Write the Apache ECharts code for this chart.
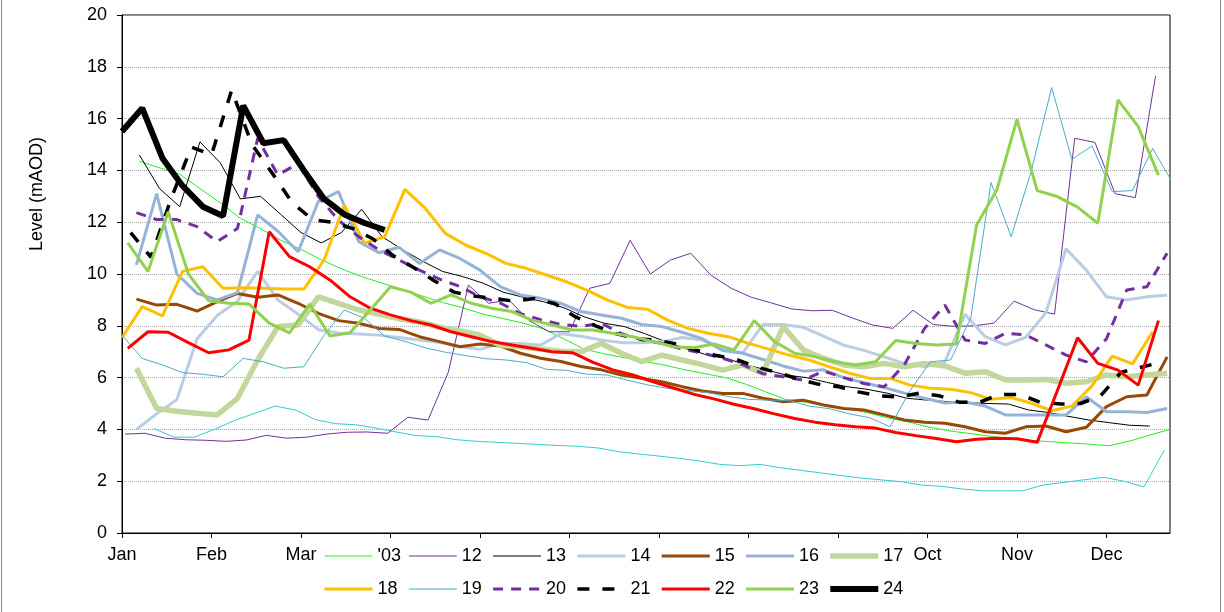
<!DOCTYPE html>
<html><head><meta charset="utf-8">
<script src="https://cdn.jsdelivr.net/npm/echarts@6/dist/echarts.min.js"></script>
<style>html,body{margin:0;padding:0;background:#fff}#c{width:1224px;height:612px}</style>
</head><body><div id="c"></div>
<script>
// ---- axis data ----
const monthLabels = ['Jan','Feb','Mar','Apr','May','Jun','Jul','Aug','Sep','Oct','Nov','Dec'];
const monthTickDays = [0,31,62,93,124,155,186,217,248,279,310,341];
const labelledMonthDays = [0,31,62,279,310,341];
const yMin = 0, yMax = 20, yStep = 2;

// ---- series: first day of year (weekly readings follow) ----
const seriesNames = ["'03",'12','13','14','15','16','17','18','19','20','21','22','23','24'];
const startLow = 11;
const start03 = 6, start12 = 1, start13 = 6, start14 = 5, start15 = 5, start16 = 5, start17 = 5;
const start18 = 0, start19 = 0, start20 = 5, start21 = 3, start22 = 2, start23 = 2, start24 = 0;

// ---- weekly levels (mAOD) ----
const vLow = [4.04,3.7,3.7,4.0,4.35,4.62,4.9,4.75,4.38,4.22,4.18,4.05,3.9,3.76,3.72,3.6,3.54,3.5,3.46,3.42,3.38,3.35,3.28,3.14,3.05,2.97,2.88,2.78,2.65,2.6,2.65,2.52,2.42,2.32,2.22,2.12,2.05,1.98,1.85,1.8,1.7,1.63,1.63,1.63,1.85,1.95,2.05,2.15,2.0,1.78,3.2];
const v03 = [14.35,14.1,13.85,13.3,12.75,12.15,11.75,11.3,10.95,10.55,10.2,9.9,9.65,9.4,9.15,8.9,8.7,8.45,8.28,8.1,7.88,7.5,7.1,6.92,6.77,6.62,6.48,6.3,6.15,6.0,5.75,5.45,5.15,5.05,4.9,4.8,4.65,4.45,4.3,4.1,3.95,3.85,3.75,3.65,3.58,3.53,3.48,3.43,3.37,3.55,3.78,4.0];
const v12 = [3.82,3.85,3.66,3.6,3.58,3.54,3.59,3.77,3.66,3.7,3.82,3.89,3.9,3.85,4.47,4.36,6.2,9.57,8.87,9.0,8.2,7.77,7.77,9.45,9.64,11.3,10.0,10.54,10.8,9.95,9.45,9.1,8.88,8.65,8.58,8.6,8.3,8.03,7.9,8.6,8.05,7.98,8.0,8.1,8.95,8.62,8.45,15.24,15.08,13.1,12.95,17.65];
const v13 = [14.6,13.3,12.6,15.1,14.3,12.9,13.0,12.3,11.6,11.2,11.6,12.5,11.45,10.95,10.5,10.1,9.9,9.65,9.3,9.1,8.93,8.7,8.35,8.1,7.97,7.7,7.4,7.13,6.9,6.75,6.5,6.3,6.1,6.0,5.82,5.65,5.55,5.4,5.2,5.13,5.07,5.03,5.0,4.98,4.75,4.65,4.5,4.36,4.26,4.16,4.13];
const v14 = [4.0,4.6,5.15,7.5,8.4,8.95,10.1,9.0,8.45,7.85,7.72,7.68,7.64,7.55,7.45,7.35,7.2,7.09,7.32,7.32,7.26,7.7,7.6,7.45,7.35,7.35,7.38,7.55,7.45,7.1,6.95,8.05,8.05,7.94,7.6,7.25,7.05,6.8,6.55,6.42,6.6,8.45,7.58,7.26,7.55,8.5,10.97,10.15,9.12,9.0,9.12,9.18];
const v15 = [9.03,8.8,8.83,8.57,8.93,9.25,9.1,9.19,8.87,8.48,8.2,8.1,7.9,7.86,7.58,7.39,7.19,7.3,7.22,6.94,6.75,6.62,6.43,6.3,6.1,5.97,5.84,5.65,5.48,5.39,5.39,5.2,5.07,5.13,4.94,4.81,4.75,4.56,4.36,4.28,4.24,4.1,3.91,3.85,4.1,4.13,3.91,4.08,4.88,5.26,5.33,6.8];
const v16 = [10.35,13.1,10.0,9.25,9.0,9.28,12.28,11.65,10.86,12.8,13.18,11.25,10.82,11.03,10.41,10.93,10.6,10.15,9.51,9.19,9.06,8.87,8.55,8.42,8.29,8.05,7.97,7.75,7.5,7.05,6.94,6.7,6.45,6.25,6.3,6.0,5.8,5.62,5.4,5.2,5.02,5.06,4.9,4.56,4.56,4.56,4.56,5.26,4.68,4.68,4.65,4.81];
const v17 = [6.36,4.81,4.7,4.62,4.56,5.2,6.68,7.97,8.03,9.12,8.87,8.61,8.45,8.27,8.15,7.95,7.8,7.64,7.25,7.19,7.1,7.02,7.0,7.32,6.94,6.62,6.87,6.68,6.5,6.29,6.49,6.17,7.97,7.07,6.74,6.49,6.42,6.55,6.42,6.55,6.45,6.17,6.23,5.91,5.91,5.93,5.78,5.84,6.1,6.03,6.1,6.17];
const v18 = [7.55,8.74,8.38,10.1,10.28,9.45,9.47,9.45,9.42,9.42,10.54,12.66,11.19,11.44,13.27,12.54,11.57,11.12,10.8,10.41,10.22,9.96,9.7,9.38,9.0,8.71,8.64,8.22,7.9,7.71,7.58,7.32,7.1,6.87,6.68,6.42,6.17,5.97,5.97,5.71,5.59,5.55,5.42,5.16,5.23,5.01,4.72,4.9,5.68,6.83,6.53,7.77];
const v19 = [7.64,6.74,6.49,6.19,6.13,6.03,6.74,6.61,6.36,6.42,7.64,8.61,8.29,7.6,7.4,7.15,6.98,6.85,6.73,6.68,6.58,6.32,6.28,6.13,6.1,5.9,5.72,5.58,5.5,5.42,5.27,5.16,5.13,5.12,4.9,4.8,4.6,4.45,4.1,5.5,6.61,6.68,8.3,13.53,11.44,14.0,17.2,14.43,14.94,13.18,13.22,14.85,13.5];
const v20 = [12.37,12.1,12.1,11.83,11.25,11.76,15.24,13.82,14.27,12.99,12.08,11.44,10.93,10.54,10.15,9.8,9.52,9.12,8.88,8.47,8.24,8.05,7.98,8.1,7.7,7.46,7.32,7.1,6.95,6.75,6.5,6.15,6.03,5.9,6.25,6.0,5.77,5.65,6.5,7.9,8.8,7.45,7.32,7.71,7.65,7.26,6.87,6.61,7.5,9.38,9.51,10.8];
const v21 = [11.6,10.65,12.9,14.9,14.6,17.1,15.0,13.9,12.75,12.1,12.0,11.75,11.35,10.7,10.25,9.75,9.3,9.15,9.05,8.95,9.05,8.85,8.35,8.0,7.7,7.5,7.45,7.3,7.05,6.85,6.7,6.4,6.2,5.95,5.75,5.65,5.45,5.3,5.25,5.4,5.3,5.05,5.05,5.35,5.35,5.05,4.98,5.0,5.3,6.2,6.4,6.6];
const v22 = [7.13,7.77,7.75,7.35,6.96,7.07,7.45,11.63,10.67,10.28,9.77,9.12,8.68,8.42,8.2,8.03,7.77,7.58,7.39,7.26,7.13,7.0,6.96,6.6,6.3,6.1,5.84,5.6,5.36,5.18,4.97,4.8,4.6,4.42,4.28,4.18,4.1,4.05,3.88,3.76,3.65,3.52,3.62,3.66,3.64,3.5,5.5,7.54,6.55,6.29,5.71,8.2];
const v23 = [11.2,10.1,12.4,10.0,8.97,8.87,8.84,8.1,7.73,8.84,7.61,7.73,8.61,9.51,9.3,8.87,9.19,8.87,8.68,8.55,8.22,8.03,7.84,7.84,7.71,7.58,7.39,7.19,7.15,7.3,7.07,8.2,7.39,6.94,6.81,6.61,6.49,6.61,7.43,7.32,7.26,7.3,11.89,13.24,15.97,13.22,12.99,12.58,11.96,16.72,15.69,13.82];
const v24 = [15.5,16.4,14.47,13.4,12.6,12.24,16.5,15.05,15.17,14.0,12.9,12.3,11.97,11.7];

// ---- styles (separate from data) ----
const FONT = 'Liberation Sans, Arial, sans-serif';
const styleOf = {
  'low': {color:'#33cccc', width:1},
  "'03": {color:'#1ff01f', width:1},
  '12': {color:'#7030a0', width:1},
  '13': {color:'#000000', width:1},
  '14': {color:'#b9cde5', width:3},
  '15': {color:'#984807', width:3},
  '16': {color:'#95b3d7', width:3},
  '17': {color:'#c3d69b', width:5.5},
  '18': {color:'#ffc000', width:3},
  '19': {color:'#4bacc6', width:1},
  '20': {color:'#7030a0', width:3, dash:[10,8]},
  '21': {color:'#000000', width:3.5, dash:[12,13]},
  '22': {color:'#ff0000', width:3},
  '23': {color:'#92d050', width:3},
  '24': {color:'#000000', width:6}
};

const seriesInput = [
  ['low', startLow, vLow],
  ["'03", start03, v03], ['12', start12, v12], ['13', start13, v13], ['14', start14, v14],
  ['15', start15, v15], ['16', start16, v16], ['17', start17, v17], ['18', start18, v18],
  ['19', start19, v19], ['20', start20, v20], ['21', start21, v21], ['22', start22, v22],
  ['23', start23, v23], ['24', start24, v24]
];

const series = seriesInput.map(([name, start, vals]) => {
  const s = styleOf[name];
  return {
    name: name, type: 'line', symbol: 'none', smooth: false, clip: true,
    data: vals.map((v, i) => [start + 7 * i, v]),
    lineStyle: {color: s.color, width: s.width, type: s.dash || 'solid', cap: 'butt'},
    itemStyle: {color: s.color},
    emphasis: {disabled: true}
  };
});

// legend items: equal pitch regardless of icon stroke width
const PITCH_TEXT = 31.3;
const legendItems = seriesNames.map((n, i) => {
  const next = seriesNames[i + 1];
  const wNext = next ? styleOf[next].width : 1;
  return {name: n, textStyle: {width: PITCH_TEXT - wNext / 2}};
});

const chart = echarts.init(document.getElementById('c'), null, {renderer: 'canvas'});
chart.setOption({
  animation: false,
  backgroundColor: '#ffffff',
  textStyle: {fontFamily: FONT},
  grid: {left: 122, right: 54, top: 15, bottom: 79, show: true, borderColor: '#000', borderWidth: 1,
         containLabel: false, outerBoundsMode: 'none'},
  xAxis: {
    type: 'value', min: 0, max: 363, interval: 31,
    axisLine: {show: true, onZero: false, lineStyle: {color: '#000', width: 1}},
    axisTick: {show: true, length: 5, customValues: monthTickDays, lineStyle: {color: '#000'}},
    axisLabel: {show: true, customValues: labelledMonthDays, margin: 13, color: '#000', fontSize: 18, fontFamily: FONT,
      formatter: v => monthLabels[Math.round(v / 31)]},
    splitLine: {show: false}
  },
  yAxis: {
    type: 'value', min: yMin, max: yMax, interval: yStep,
    axisLine: {show: true, lineStyle: {color: '#000', width: 1}},
    axisTick: {show: true, length: 5, lineStyle: {color: '#000'}},
    axisLabel: {margin: 15, color: '#000', fontSize: 18, fontFamily: FONT},
    splitLine: {show: true, lineStyle: {color: '#a8a8a8', type: 'dotted', width: 1}}
  },
  legend: {
    data: legendItems, left: 323, top: 539.5, width: 640, orient: 'horizontal',
    padding: 0, itemGap: 0, itemWidth: 48, itemHeight: 14,
    itemStyle: {opacity: 0, borderWidth: 0},
    lineStyle: {width: 'inherit', type: 'inherit', color: 'inherit', cap: 'butt'},
    textStyle: {color: '#000', fontSize: 18, fontFamily: FONT, width: PITCH_TEXT, lineHeight: 33, overflow: 'none'},
    selectedMode: false
  },
  graphic: [
    {type: 'text', x: 37, y: 194, rotation: Math.PI / 2,
     style: {text: 'Level (mAOD)', font: '18px ' + FONT, fill: '#000', align: 'center', verticalAlign: 'middle'}},
    {type: 'rect', shape: {x: 1.5, y: -2, width: 1219, height: 616}, silent: true,
     style: {fill: 'none', stroke: '#8c8c8c', lineWidth: 1}}
  ],
  series: series
});
</script></body></html>
